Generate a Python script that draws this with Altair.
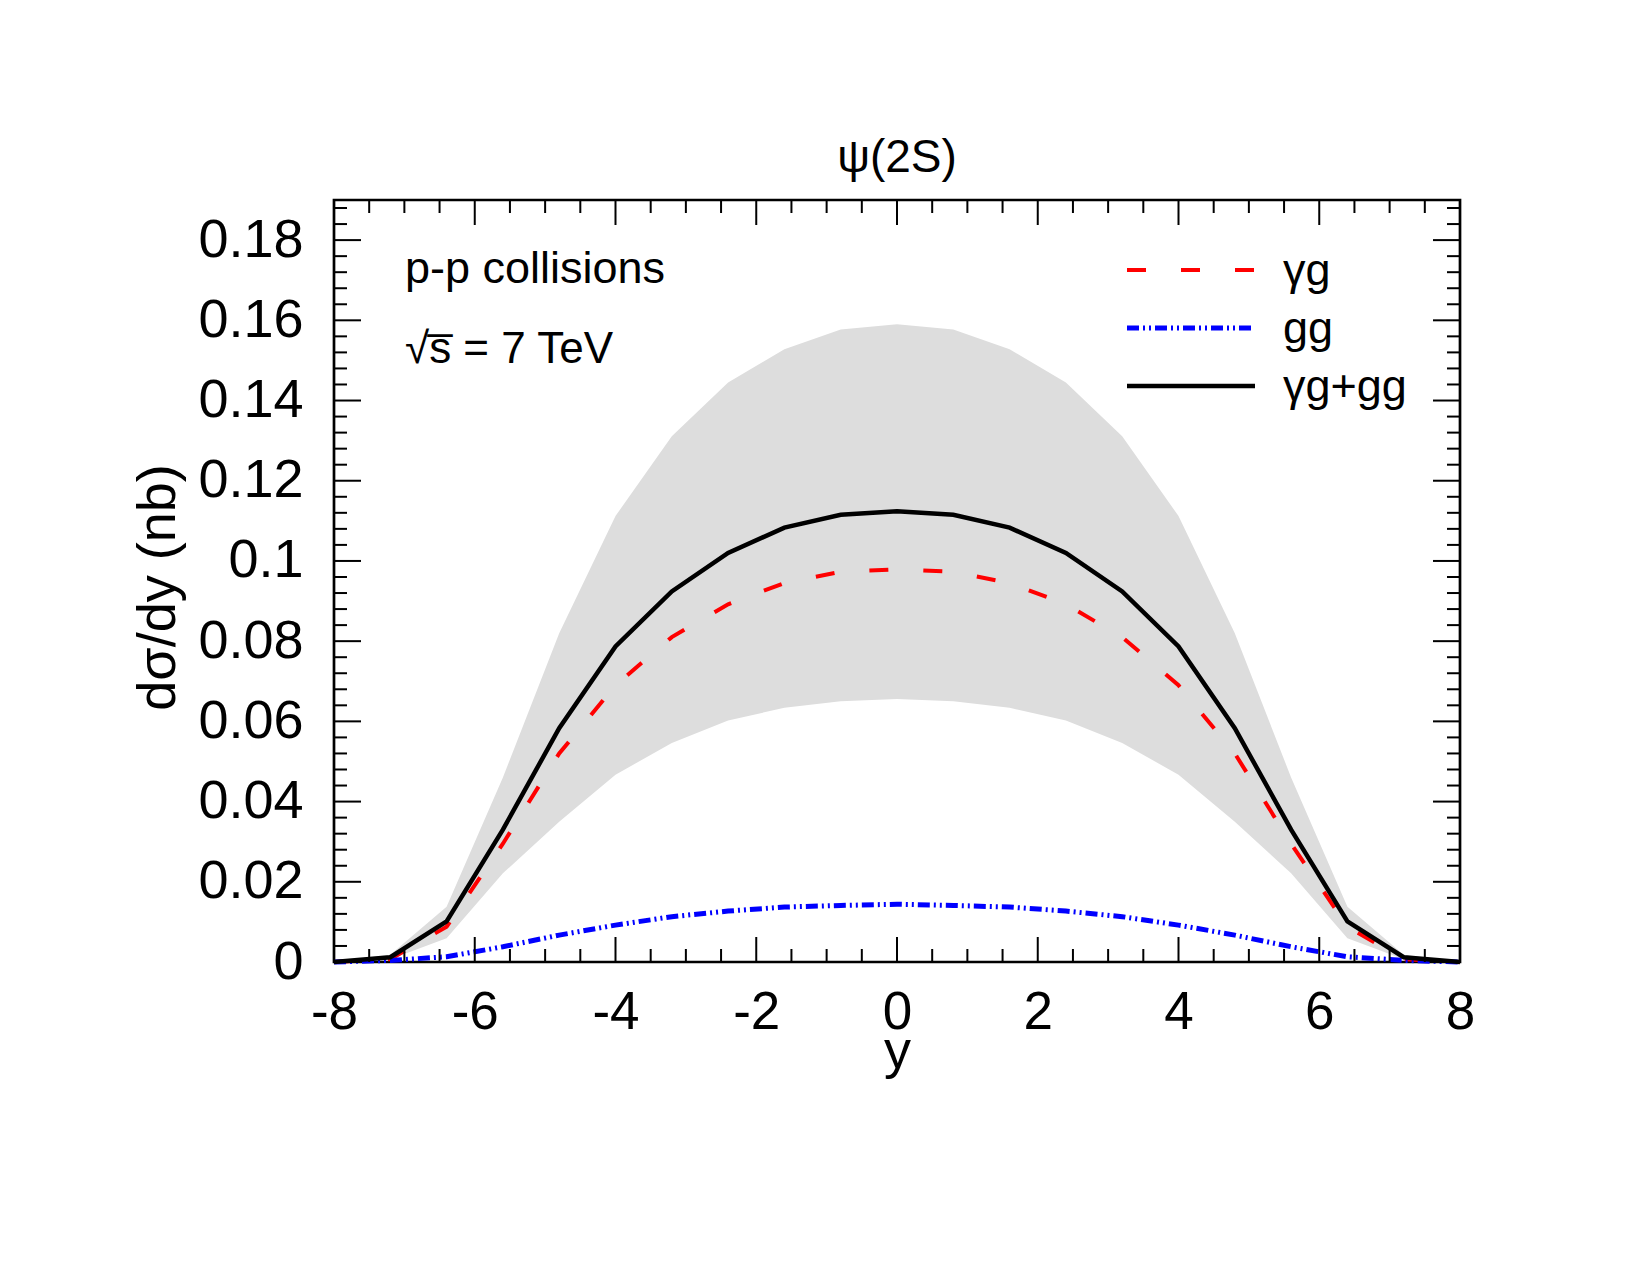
import altair as alt
import pandas as pd

# ---------------- data ----------------
rapidity = [-8.0, -7.2, -6.4, -5.6, -4.8, -4.0, -3.2, -2.4, -1.6, -0.8, 0.0,
            0.8, 1.6, 2.4, 3.2, 4.0, 4.8, 5.6, 6.4, 7.2, 8.0]
total_gg = [0.0, 0.0012, 0.0101, 0.0330, 0.0583, 0.0787, 0.0924, 0.1020, 0.1083, 0.1115, 0.1124,
            0.1115, 0.1083, 0.1020, 0.0924, 0.0787, 0.0583, 0.0330, 0.0101, 0.0012, 0.0]
gamma_g = [0.0, 0.0007, 0.0088, 0.0295, 0.0520, 0.0690, 0.0810, 0.0892, 0.0945, 0.0973, 0.0979,
           0.0973, 0.0945, 0.0892, 0.0810, 0.0690, 0.0520, 0.0295, 0.0088, 0.0007, 0.0]
g_g = [0.0, 0.0004, 0.0013, 0.0038, 0.0067, 0.0092, 0.0113, 0.0127, 0.0137, 0.0141, 0.0144,
       0.0141, 0.0137, 0.0127, 0.0113, 0.0092, 0.0067, 0.0038, 0.0013, 0.0004, 0.0]
band_hi = [0.0, 0.0018, 0.0138, 0.0460, 0.0820, 0.1112, 0.1311, 0.1445, 0.1528, 0.1577, 0.1590,
           0.1577, 0.1528, 0.1445, 0.1311, 0.1112, 0.0820, 0.0460, 0.0138, 0.0018, 0.0]
band_lo = [0.0, 0.0007, 0.0059, 0.0221, 0.0350, 0.0467, 0.0546, 0.0602, 0.0634, 0.0650, 0.0656,
           0.0650, 0.0634, 0.0602, 0.0546, 0.0467, 0.0350, 0.0221, 0.0059, 0.0007, 0.0]

x_major = [-8, -6, -4, -2, 0, 2, 4, 6, 8]
x_minor = [-7.5, -7, -6.5, -5.5, -5, -4.5, -3.5, -3, -2.5, -1.5, -1, -0.5,
           0.5, 1, 1.5, 2.5, 3, 3.5, 4.5, 5, 5.5, 6.5, 7, 7.5]
y_major = [0.0, 0.02, 0.04, 0.06, 0.08, 0.1, 0.12, 0.14, 0.16, 0.18]
y_minor = [round(0.004 * i, 4) for i in range(1, 48) if i % 5 != 0]

legend_names = ["γg", "gg", "γg+gg"]
legend_colors = ["#ff0000", "#0000ff", "#000000"]
legend_dashes = [[19, 35], [12, 4, 2, 4, 2, 4], [1, 0]]
legend_widths = [4, 5, 4.5]

title_text = "ψ(2S)"
x_title = "y"
y_title = "dσ/dy (nb)"
note1 = "p-p collisions"
note2 = "√s\u0305 = 7 TeV"

# ---------------- layout ----------------
FONT = "Liberation Sans"
W, H = 1126, 762

df = pd.DataFrame({"y": rapidity, "tot": total_gg, "gam": gamma_g,
                   "gg": g_g, "hi": band_hi, "lo": band_lo})

xs = alt.Scale(domain=[-8, 8], nice=False, zero=False)
ys = alt.Scale(domain=[0, 0.19], nice=False, zero=False)

x_axis = alt.Axis(values=x_major, labelExpr="datum.value + ''", labelFont=FONT,
                  labelFontSize=53, labelColor="black", labelPadding=24,
                  labelFlush=False, labelOverlap=False, ticks=False, tickSize=0,
                  domain=False, grid=False, title=x_title, titleFont=FONT,
                  titleFontSize=54, titleFontWeight="normal", titleColor="black",
                  titleBaseline="alphabetic", titleAlign="center",
                  titleX=W / 2, titleY=105)
y_axis = alt.Axis(values=y_major, format="~g", labelFont=FONT, labelFontSize=54,
                  labelColor="black", labelPadding=31, labelFlush=False,
                  labelOverlap=False, ticks=False, tickSize=0, domain=False,
                  grid=False, title=y_title, titleFont=FONT, titleFontSize=54,
                  titleFontWeight="normal", titleColor="black",
                  titleBaseline="alphabetic", titleAlign="center", titleAngle=270,
                  titleX=-160, titleY=387)


def X(field):
    return alt.X(field, type="quantitative", scale=xs, axis=x_axis, title=x_title)


def Y(field):
    return alt.Y(field, type="quantitative", scale=ys, axis=y_axis, title=y_title)


band = alt.Chart(df).mark_area(color="#dddddd", opacity=1).encode(
    x=X("y"), y=Y("hi"), y2="lo")

line_red = alt.Chart(df).mark_line(color="#ff0000", strokeWidth=4,
                                   strokeDash=[19, 35]).encode(x=X("y"), y=Y("gam"))
line_blue = alt.Chart(df).mark_line(color="#0000ff", strokeWidth=5,
                                    strokeDash=[12, 4, 2, 4, 2, 4]).encode(x=X("y"), y=Y("gg"))
line_black = alt.Chart(df).mark_line(color="#000000", strokeWidth=4.5).encode(
    x=X("y"), y=Y("tot"))

# ---------------- inward ticks on all four sides ----------------
xmaj = pd.DataFrame({"v": x_major})
xmin = pd.DataFrame({"v": x_minor})
ymaj = pd.DataFrame({"v": y_major})
ymin = pd.DataFrame({"v": y_minor})

tick_layers = []
for d, ln in [(xmaj, 25), (xmin, 13)]:
    tick_layers.append(alt.Chart(d).mark_rule(color="black", strokeWidth=2).encode(
        x=X("v"), y=alt.value(H), y2=alt.value(H - ln)))
    tick_layers.append(alt.Chart(d).mark_rule(color="black", strokeWidth=2).encode(
        x=X("v"), y=alt.value(0), y2=alt.value(ln)))
for d, ln in [(ymaj, 27), (ymin, 13)]:
    tick_layers.append(alt.Chart(d).mark_rule(color="black", strokeWidth=2).encode(
        y=Y("v"), x=alt.value(0), x2=alt.value(ln)))
    tick_layers.append(alt.Chart(d).mark_rule(color="black", strokeWidth=2).encode(
        y=Y("v"), x=alt.value(W), x2=alt.value(W - ln)))

one = alt.Data(values=[{}])

# ---------------- title and annotations ----------------
title_mark = alt.Chart(one).mark_text(align="center", baseline="alphabetic", font=FONT,
                                      fontSize=46, color="black").encode(
    x=alt.value(W / 2), y=alt.value(-28), text=alt.value(title_text))
txt1 = alt.Chart(one).mark_text(align="left", baseline="alphabetic", font=FONT,
                                fontSize=45, color="black").encode(
    x=alt.value(71), y=alt.value(83), text=alt.value(note1))
txt2 = alt.Chart(one).mark_text(align="left", baseline="alphabetic", font=FONT,
                                fontSize=44, color="black").encode(
    x=alt.value(71), y=alt.value(163), text=alt.value(note2))

# ---------------- legend ----------------
legend_layers = []
row_y = [70, 128, 186]
for i, name in enumerate(legend_names):
    legend_layers.append(alt.Chart(one).mark_rule(
        color=legend_colors[i], strokeWidth=legend_widths[i],
        strokeDash=legend_dashes[i]).encode(
        x=alt.value(793), x2=alt.value(921), y=alt.value(row_y[i])))
    legend_layers.append(alt.Chart(one).mark_text(
        align="left", baseline="alphabetic", font=FONT, fontSize=45,
        color="black").encode(
        x=alt.value(949), y=alt.value(row_y[i] + 15), text=alt.value(name)))

chart = alt.layer(band, line_red, line_blue, line_black, *tick_layers,
                  title_mark, txt1, txt2, *legend_layers).properties(
    width=W, height=H,
    padding={"left": 334, "top": 200, "right": 190, "bottom": 313},
    autosize=alt.AutoSizeParams(type="none"),
    background="white",
).configure_view(stroke="black", strokeWidth=2.7)

chart.save("out.html", embed_options={"renderer": "svg", "actions": False})
